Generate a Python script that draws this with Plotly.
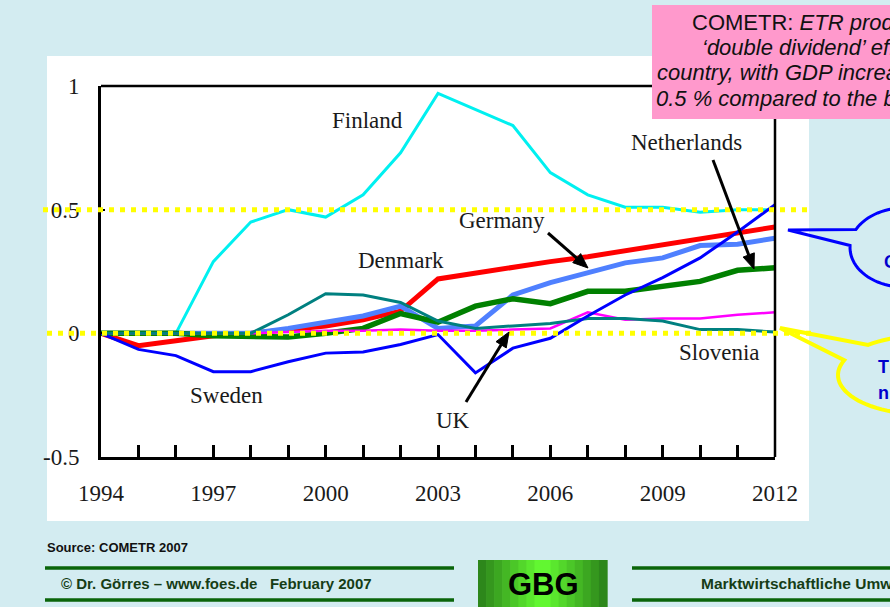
import numpy as np
import plotly.graph_objects as go

# ---------------- data ----------------
years = list(range(1994, 2013))
finland     = [0, 0, 0, 0.29, 0.45, 0.50, 0.47, 0.56, 0.73, 0.97, 0.905, 0.84, 0.65, 0.56, 0.51, 0.51, 0.49, 0.50, 0.50]
denmark     = [0, -0.05, -0.03, -0.01, 0.0, 0.015, 0.03, 0.055, 0.09, 0.22, 0.245, 0.27, 0.29, 0.31, 0.335, 0.36, 0.38, 0.405, 0.43]
germany     = [0, 0, 0, 0, 0.0, 0.02, 0.045, 0.07, 0.11, 0.02, 0.03, 0.155, 0.205, 0.245, 0.285, 0.305, 0.355, 0.36, 0.385]
netherlands = [0, 0, 0, -0.01, -0.015, -0.015, 0.0, 0.02, 0.08, 0.045, 0.11, 0.14, 0.12, 0.17, 0.17, 0.19, 0.21, 0.255, 0.265]
sweden      = [0, -0.065, -0.09, -0.155, -0.155, -0.115, -0.08, -0.075, -0.045, -0.005, -0.16, -0.06, -0.02, 0.07, 0.155, 0.225, 0.305, 0.41, 0.52]
slovenia    = [0, 0, 0, 0, 0, 0.075, 0.16, 0.155, 0.125, 0.05, 0.02, 0.03, 0.04, 0.06, 0.06, 0.05, 0.015, 0.015, 0.005]
uk          = [0, 0, 0, 0, 0, 0.005, 0.01, 0.01, 0.015, 0.01, 0.01, 0.015, 0.02, 0.085, 0.055, 0.06, 0.06, 0.075, 0.085]

x_tickvals = [1994, 1997, 2000, 2003, 2006, 2009, 2012]
x_ticktext = ["1994", "1997", "2000", "2003", "2006", "2009", "2012"]
y_tickvals = [-0.5, 0, 0.5, 1]
y_ticktext = ["-0.5", "0", "0.5", "1"]
ref_lines = [0.5, 0]

# ---------------- layout geometry (pixels) ----------------
W, H = 890, 607
X0, X1, Y0, Y1 = 101, 775, 86, 457


def fx(p):
    return (p - X0) / (X1 - X0)


def fy(p):
    return (Y1 - p) / (Y1 - Y0)


BG = "#d3ecf1"
SERIF = "Liberation Serif"
SANS = "Liberation Sans"

fig = go.Figure()

series = [
    ("Finland", finland, "#00f0f0", 3),
    ("Denmark", denmark, "#ff0000", 5),
    ("Germany", germany, "#4f80ff", 5),
    ("Netherlands", netherlands, "#008000", 5.5),
    ("UK", uk, "#ff00ff", 2.5),
    ("Slovenia", slovenia, "#008080", 3),
    ("Sweden", sweden, "#0000ff", 3),
]
for name, vals, color, w in series:
    fig.add_trace(go.Scatter(x=years, y=vals, mode="lines", name=name,
                             line=dict(color=color, width=w), hoverinfo="skip"))

shapes = []
# white panel
shapes.append(dict(type="rect", xref="paper", yref="paper", x0=fx(47), x1=fx(809),
                   y0=fy(521), y1=fy(56), fillcolor="white", line=dict(width=0), layer="below"))
# top and right frame lines
shapes.append(dict(type="line", xref="paper", yref="paper", x0=0, x1=1, y0=1, y1=1,
                   line=dict(color="black", width=2.5), layer="above"))
shapes.append(dict(type="line", xref="paper", yref="paper", x0=1, x1=1, y0=0, y1=1,
                   line=dict(color="black", width=2.5), layer="above"))
# yellow dotted reference lines
for val, (a, b) in zip(ref_lines, [(43, 813), (47, 815)]):
    shapes.append(dict(type="line", xref="paper", yref="y", x0=fx(a), x1=fx(b), y0=val, y1=val,
                       line=dict(color="#ffff00", width=5, dash="5px,6px"), layer="above"))


def arrow(tail, tip, width=3, hl=15, hw=6):
    tx, ty = tail
    px, py = tip
    d = np.array([px - tx, py - ty], dtype=float)
    L = np.hypot(*d)
    u = d / L
    n = np.array([-u[1], u[0]])
    base = np.array([px, py]) - u * hl
    out = [dict(type="line", xref="paper", yref="paper", x0=fx(tx), y0=fy(ty),
                x1=fx(base[0]), y1=fy(base[1]), line=dict(color="black", width=width), layer="above")]
    p1 = base + n * hw
    p2 = base - n * hw
    path = f"M {fx(px)},{fy(py)} L {fx(p1[0])},{fy(p1[1])} L {fx(p2[0])},{fy(p2[1])} Z"
    out.append(dict(type="path", xref="paper", yref="paper", path=path, fillcolor="black",
                    line=dict(color="black", width=1), layer="above"))
    return out


shapes += arrow((548, 233), (588, 268))
shapes += arrow((713, 160), (754, 269))
shapes += arrow((466, 402), (509, 332))


def bubble(cx, cy, rx, ry, t1, t2, tip, color, width):
    ts = np.linspace(t1, t2 + 2 * np.pi, 80)
    pts = [(cx + rx * np.cos(t), cy + ry * np.sin(t)) for t in ts]
    path = "M " + " L ".join(f"{fx(x)},{fy(y)}" for x, y in pts)
    path += f" L {fx(tip[0])},{fy(tip[1])} Z"
    return dict(type="path", xref="paper", yref="paper", path=path,
                fillcolor="rgba(0,0,0,0)", line=dict(color=color, width=width), layer="above")


shapes.append(bubble(904, 247.5, 54, 39.5, np.pi + 0.47, np.pi + 0.05, (788, 230), "#0000ff", 3))
shapes.append(bubble(921, 375, 83, 39, np.pi + 0.88, np.pi + 0.39, (780, 328), "#ffff00", 4))

# pink box
shapes.append(dict(type="rect", xref="paper", yref="paper", x0=fx(652), x1=fx(1000),
                   y0=fy(119), y1=fy(5), fillcolor="#ff99cc", line=dict(width=0), layer="above"))

# footer lines
for yy in (568, 600):
    shapes.append(dict(type="line", xref="paper", yref="paper", x0=fx(45), x1=fx(454), y0=fy(yy), y1=fy(yy),
                       line=dict(color="#0a650a", width=3.5), layer="above"))
    shapes.append(dict(type="line", xref="paper", yref="paper", x0=fx(632), x1=fx(900), y0=fy(yy), y1=fy(yy),
                       line=dict(color="#0a650a", width=3.5), layer="above"))
# GBG gradient box
nstrip = 16
bx0, bx1 = 478, 607
for i in range(nstrip):
    a = bx0 + (bx1 - bx0) * i / nstrip
    b = bx0 + (bx1 - bx0) * (i + 1) / nstrip
    t = 1 - abs((i + 0.5) / nstrip - 0.5) * 2
    c0 = np.array([0x2a, 0x80, 0x1a])
    c1 = np.array([0x66, 0xff, 0x33])
    c = (c0 + (c1 - c0) * t).astype(int)
    shapes.append(dict(type="rect", xref="paper", yref="paper", x0=fx(a), x1=fx(b) + 0.001,
                       y0=fy(610), y1=fy(560), fillcolor=f"rgb({c[0]},{c[1]},{c[2]})",
                       line=dict(width=0), layer="above"))

annotations = []


def label(text, x, y, size=23, color="#1a1a1a", family=SERIF, xanchor="center", **kw):
    annotations.append(dict(text=text, x=fx(x), y=fy(y), xref="paper", yref="paper",
                            showarrow=False, xanchor=xanchor, yanchor="middle",
                            font=dict(family=family, size=size, color=color), **kw))


label("Finland", 367, 120)
label("Netherlands", 686, 142)
label("Germany", 502, 220)
label("Denmark", 401, 260)
label("Sweden", 226, 395)
label("UK", 453, 420)
label("Slovenia", 719, 352)

pink_lines = [
    ("COMETR: <i>ETR produces a</i>", 690, 22),
    ("<i>‘double dividend’ effect in every</i>", 700, 47),
    ("<i>country, with GDP increases of up to</i>", 655, 73),
    ("<i>0.5 % compared to the baseline</i>", 654, 99),
]
for txt, x, y in pink_lines:
    label(txt, x, y, size=22, color="#111111", family=SANS, xanchor="left")

label("<b>C</b>", 882, 262, size=18, color="#0000cc", family=SANS, xanchor="left")
label("<b>T</b>", 876, 367, size=18, color="#0000cc", family=SANS, xanchor="left")
label("<b>n</b>", 876, 393, size=18, color="#0000cc", family=SANS, xanchor="left")

label("<b>Source: COMETR 2007</b>", 45, 547, size=13, color="#111111", family=SANS, xanchor="left")
label("<b>© Dr. Görres – www.foes.de   February 2007</b>", 59, 583, size=15, color="#163d16",
      family=SANS, xanchor="left")
label("<b>Marktwirtschaftliche Umweltpolitik</b>", 699, 583, size=15.5, color="#163d16",
      family=SANS, xanchor="left")
label("<b>GBG</b>", 543, 584, size=31, color="#000000", family=SANS)

fig.update_layout(
    width=W, height=H,
    margin=dict(l=X0, r=W - X1, t=Y0, b=H - Y1, autoexpand=False),
    paper_bgcolor=BG, plot_bgcolor="white",
    showlegend=False,
    shapes=shapes, annotations=annotations,
    xaxis=dict(range=[1994, 2012], tickvals=x_tickvals, ticktext=x_ticktext,
               showgrid=False, zeroline=False, showline=True, linecolor="black", linewidth=3,
               ticks="inside", ticklen=12, tickwidth=3, tickcolor="black",
               minor=dict(dtick=1, tick0=1994, ticks="inside", ticklen=12, tickwidth=3, tickcolor="black"),
               tickfont=dict(family=SERIF, size=23, color="#1a1a1a"), ticklabelstandoff=13),
    yaxis=dict(range=[-0.5, 1], tickvals=y_tickvals, ticktext=y_ticktext,
               showgrid=False, zeroline=False, showline=True, linecolor="black", linewidth=3,
               ticks="inside", ticklen=4, tickwidth=2, tickcolor="black",
               tickfont=dict(family=SERIF, size=23, color="#1a1a1a"), ticklabelstandoff=14),
)

fig.write_html("out.html", config={"displayModeBar": False},
               post_script="document.body.style.margin='0';document.body.style.overflow='hidden';")
